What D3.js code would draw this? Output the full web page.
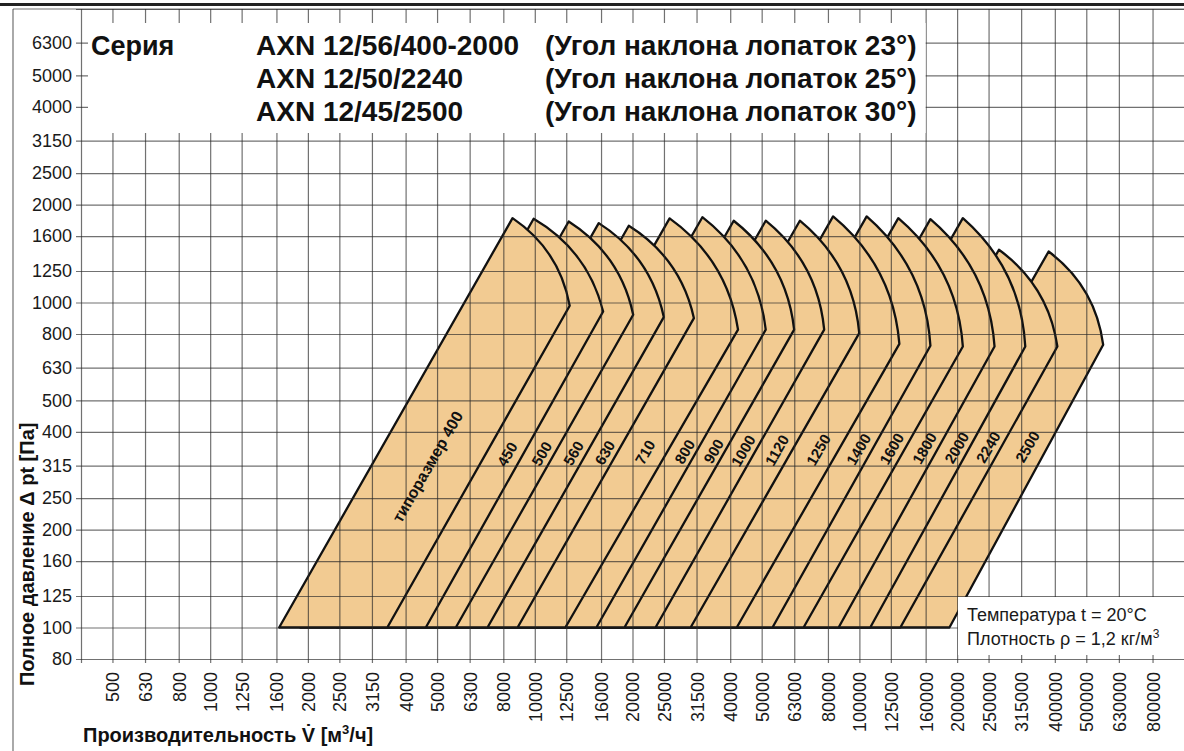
<!DOCTYPE html>
<html><head><meta charset="utf-8">
<script src="https://cdn.jsdelivr.net/npm/d3@7"></script>
<style>
html,body{margin:0;padding:0;background:#fff;}
svg{display:block;font-family:"Liberation Sans",Arial,sans-serif;}
</style></head>
<body><svg id="c" width="1184" height="751"></svg>
<script>
// ---- data ----
const xTicks = [500, 630, 800, 1000, 1250, 1600, 2000, 2500, 3150, 4000, 5000, 6300, 8000, 10000, 12500, 16000, 20000, 25000, 31500, 40000, 50000, 63000, 80000, 100000, 125000, 160000, 200000, 250000, 315000, 400000, 500000, 630000, 800000];
const yTicks = [80, 100, 125, 160, 200, 250, 315, 400, 500, 630, 800, 1000, 1250, 1600, 2000, 2500, 3150, 4000, 5000, 6300];
const sizes = ["400", "450", "500", "560", "630", "710", "800", "900", "1000", "1120", "1250", "1400", "1600", "1800", "2000", "2240", "2500"];
const peakFlow = [8540, 9920, 12720, 15740, 19480, 26020, 32830, 41000, 51460, 65550, 82980, 105300, 131800, 165500, 208300, 269100, 382800];
const peakPressure = [1818, 1810, 1775, 1755, 1722, 1815, 1830, 1785, 1785, 1785, 1840, 1840, 1818, 1805, 1818, 1453, 1435];
const arcEndFlow = [12810, 16240, 20100, 24970, 30920, 42280, 51460, 62950, 77900, 99900, 132800, 165500, 208300, 260800, 324400, 407300, 563700];
const arcEndPressure = [977, 938, 917, 902, 895, 825, 825, 825, 825, 805, 746, 736, 732, 732, 732, 732, 741];
const leftBaseFlow = [1631, 1894, 2456, 3058, 3828, 4963, 6229, 7893, 9911, 12620, 15730, 19920, 25100, 31670, 39680, 58300, 83450];
const rightBaseFlow = [3513, 4616, 5711, 7150, 8851, 12420, 15480, 18890, 23550, 30200, 41890, 53980, 67300, 86290, 108000, 133700, 189400];
const basePressure = 100;
const labelPressure = 340;
const seriesNames = ["AXN 12/56/400-2000", "AXN 12/50/2240", "AXN 12/45/2500"];
const seriesAngles = ["(Угол наклона лопаток 23°)", "(Угол наклона лопаток 25°)", "(Угол наклона лопаток 30°)"];

// ---- drawing ----
const svg = d3.select("#c");
const W = 1184, H = 751;
svg.append("rect").attr("width", W).attr("height", H).attr("fill", "#fff");

const x = d3.scaleLog().domain([400, 1000000]).range([81, 1184]);
const y = d3.scaleLog().domain([80, 8000]).range([659, 9]);

const FILL = "#f2cb92";
const GRID = "rgba(40,40,40,0.66)";

// shapes, largest first so smaller sizes lie on top
const shapes = svg.append("g");
const bulge = 0.105;
for (let i = sizes.length - 1; i >= 0; i--) {
  const bx0 = x(leftBaseFlow[i]), by = y(basePressure);
  const px = x(peakFlow[i]), py = y(peakPressure[i]);
  const vx = x(arcEndFlow[i]), vy = y(arcEndPressure[i]);
  const bx1 = x(rightBaseFlow[i]);
  const dx = vx - px, dy = vy - py, len = Math.hypot(dx, dy);
  const nx = dy / len, ny = -dx / len;
  const cx = (px + vx) / 2 + nx * 2 * bulge * len;
  const cy = (py + vy) / 2 + ny * 2 * bulge * len;
  const p = d3.path();
  p.moveTo(bx0, by);
  p.lineTo(px, py);
  p.quadraticCurveTo(cx, cy, vx, vy);
  p.lineTo(bx1, by);
  p.closePath();
  shapes.append("path").attr("d", p.toString())
    .attr("fill", FILL).attr("stroke", "#111").attr("stroke-width", 2.3)
    .attr("stroke-linejoin", "round");
}

// grid via axes
const yAxis = d3.axisLeft(y).tickValues(yTicks.concat([8000])).tickSize(1184 - 76).tickPadding(4)
  .tickFormat(d => d === 8000 ? "" : d);
const gy = svg.append("g").attr("transform", "translate(1184,0)").call(yAxis);
gy.select(".domain").remove();
gy.selectAll("line").attr("stroke", GRID).attr("stroke-width", 1.2);
gy.selectAll("text").attr("font-size", 18).attr("fill", "#1a1a1a")
  .attr("font-family", "Liberation Sans, Arial, sans-serif");

const xAxis = d3.axisBottom(x).tickValues([400].concat(xTicks)).tickSize(663 - 9)
  .tickFormat(d => d === 400 ? "" : d);
const gx = svg.append("g").attr("transform", "translate(0,9)").call(xAxis);
gx.select(".domain").remove();
gx.selectAll("line").attr("stroke", GRID).attr("stroke-width", 1.2);
gx.selectAll("text")
  .attr("y", 0).attr("x", 0).attr("dy", "0.36em")
  .attr("text-anchor", "end")
  .attr("transform", `translate(0,${672 - 9}) rotate(-90)`)
  .attr("font-size", 18).attr("fill", "#1a1a1a")
  .attr("font-family", "Liberation Sans, Arial, sans-serif");

// outer frame lines
svg.append("line").attr("x1", 13).attr("x2", 13).attr("y1", 9).attr("y2", H).attr("stroke", GRID).attr("stroke-width", 1.2);
svg.append("line").attr("x1", 13).attr("x2", W).attr("y1", y(8000)).attr("y2", y(8000)).attr("stroke", GRID).attr("stroke-width", 1.2);
svg.append("rect").attr("x", 0).attr("y", 3).attr("width", W).attr("height", 3).attr("fill", "#222");

// size labels along the edges
const y100 = y(basePressure), yl = y(labelPressure);
function edgeX(bottomX, topX, topY, yy) { return bottomX + (topX - bottomX) * (y100 - yy) / (y100 - topY); }
sizes.forEach((s, i) => {
  const yy = i === 0 ? yl + 12 : yl - (i / 16) * 8;
  let leftLine;
  if (i === 0) leftLine = edgeX(x(leftBaseFlow[0]), x(peakFlow[0]), y(peakPressure[0]), yy);
  else leftLine = edgeX(x(rightBaseFlow[i - 1]), x(arcEndFlow[i - 1]), y(arcEndPressure[i - 1]), yy);
  const rightLine = edgeX(x(rightBaseFlow[i]), x(arcEndFlow[i]), y(arcEndPressure[i]), yy);
  const cxl = (leftLine + rightLine) / 2 + 3;
  svg.append("text").attr("x", 0).attr("y", 0).attr("dy", "0.35em")
    .attr("text-anchor", "middle")
    .attr("transform", `translate(${cxl},${yy}) rotate(-60)`)
    .attr("font-size", i === 0 ? 16 : 15).attr("font-weight", "bold").attr("fill", "#111")
    .text(i === 0 ? "типоразмер " + s : s);
});

// title box
svg.append("rect").attr("x", 88).attr("y", 23).attr("width", x(160000) - 88).attr("height", 110).attr("fill", "#fff");
const tg = svg.append("g").attr("font-weight", "bold").attr("fill", "#111");
tg.append("text").attr("x", 91).attr("y", 55).attr("font-size", 27).text("Серия");
const rowsY = [55, 88, 121];
seriesNames.forEach((t, i) => tg.append("text").attr("x", 256).attr("y", rowsY[i]).attr("font-size", 28).text(t));
seriesAngles.forEach((t, i) => tg.append("text").attr("x", 545).attr("y", rowsY[i]).attr("font-size", 28).text(t));

// conditions box
svg.append("rect").attr("x", 958).attr("y", 597).attr("width", W - 958).attr("height", 58).attr("fill", "#fff");
svg.append("text").attr("x", 967).attr("y", 621).attr("font-size", 18).attr("fill", "#1a1a1a").text("Температура t = 20°C");
const t2 = svg.append("text").attr("x", 967).attr("y", 645).attr("font-size", 18).attr("fill", "#1a1a1a");
t2.append("tspan").text("Плотность ρ = 1,2 кг/м");
t2.append("tspan").attr("font-size", 12).attr("dy", -7).text("3");

// axis titles
svg.append("text").attr("transform", "translate(34,686) rotate(-90)")
  .attr("font-size", 20).attr("font-weight", "bold").attr("fill", "#111")
  .text("Полное давление Δ pt [Па]");
const xt = svg.append("text").attr("x", 83).attr("y", 742)
  .attr("font-size", 20).attr("font-weight", "bold").attr("fill", "#111");
xt.append("tspan").text("Производительность V\u0307 [м");
xt.append("tspan").attr("font-size", 13).attr("dy", -8).text("3");
xt.append("tspan").attr("dy", 8).text("/ч]");
</script></body></html>
